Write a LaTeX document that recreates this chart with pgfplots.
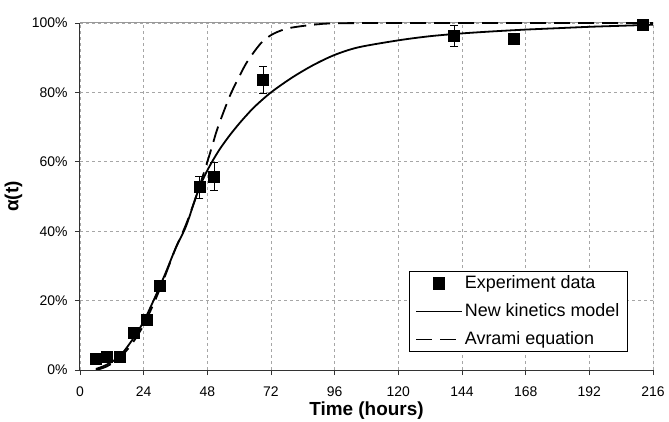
\documentclass[border=0pt]{standalone}
\usepackage{pgfplots}
\pgfplotsset{compat=1.18}
\usepackage{fontspec}
\setmainfont{Liberation Sans}
\begin{document}
\begin{tikzpicture}
\useasboundingbox (-80bp,-52bp) rectangle (589bp,370bp);
\begin{axis}[
  at={(0,0)}, anchor=south west,
  scale only axis, width=573bp, height=347bp,
  xmin=0, xmax=216, ymin=0, ymax=100,
  xtick={0,24,...,216}, ytick={0,20,...,100},
  yticklabel={\pgfmathprintnumber{\tick}\%},
  /pgf/number format/assume math mode=true,
  axis x line*=bottom, axis y line*=left,
  axis line style={draw=black!80, line width=1bp},
  tick align=outside, major tick length=5bp,
  tick style={draw=black!80, line width=0.8bp},
  ticklabel style={font=\fontsize{14}{16}\selectfont},
  xticklabel style={yshift=-8bp},
  yticklabel style={xshift=-4bp},
  grid=major,
  major grid style={draw=black!35, dash pattern=on 3bp off 3bp, line width=0.7bp},
  xlabel={\textbf{Time (hours)}},
  xlabel style={font=\fontsize{19}{21}\selectfont, at={(rel axis cs:0.5,0)}, anchor=north, yshift=-32bp, inner sep=0pt},
  ylabel={\textbf{α(t)}},
  ylabel style={font=\fontsize{19}{21}\selectfont, inner sep=0pt},
  ylabel shift=6bp,
  legend image code/.code={\draw[mark repeat=2,mark phase=2,#1,line width=1.8bp] plot coordinates {(0bp,0bp) (23bp,0bp) (46bp,0bp)};},
  legend cell align=left,
  legend style={at={(0.956,0.052)}, anchor=south east, draw=black, line width=0.8bp, fill=white,
    font=\fontsize{18}{21}\selectfont, inner xsep=6bp, inner ysep=1.5bp, row sep=7bp,
    nodes={inner sep=2bp, text height=13bp, text depth=4bp}},
]
\draw[black!40, line width=1bp] (rel axis cs:0,1) -- (rel axis cs:1,1) -- (rel axis cs:1,0);
\addplot[only marks, mark=square*, mark size=5.5bp, black,
  error bars/.cd, y dir=both, y explicit,
  error bar style={line width=0.9bp, black},
  error mark options={rotate=90, mark size=4bp, line width=0.9bp}]
  coordinates {
  (6,3.2) +- (0,0.8)
  (10,3.7) +- (0,0.8)
  (15,3.7) +- (0,0.8)
  (20.3,10.7) +- (0,1)
  (25,14.4) +- (0,1)
  (30,24.4) +- (0,1)
  (45,52.7) +- (0,3.2)
  (50.5,55.8) +- (0,4)
  (69,83.6) +- (0,3.9)
  (141,96.2) +- (0,3)
  (163.6,95.5) +- (0,1.2)
  (212,99.6) +- (0,1.5)
  };
\addlegendentry{Experiment data}
\addplot[black, line width=1.8bp, smooth] coordinates {
  (6,0.3) (10,1.5) (15,4) (20,9) (24,14) (28,20.5) (32,27.5) (36,35) (40,41.5)
  (44,50.5) (47,56) (50,60.3) (53,64) (56.5,67.7) (60,71) (63,73.6) (66,76) (72,80) (80,84.3)
  (88,87.9) (96,90.8) (105,93) (120,95) (132,96.2) (144,97) (156,97.6)
  (168,98.1) (180,98.5) (192,98.9) (204,99.2) (216,99.5)
};
\addlegendentry{New kinetics model}
\addplot[black, line width=1.8bp, dash pattern=on 16bp off 8bp, smooth] coordinates {
  (6,0) (10,1) (15,3.5) (20,8) (24,13) (28,19.5) (32,27) (36,35) (40,42)
  (44,50.5) (48,60) (50,65) (52,70) (56.5,79) (60,84.5) (63,88.8) (68,94) (72,96.5)
  (76,97.9) (80,98.7) (88,99.5) (96,99.9) (120,100) (216,100)
};
\addlegendentry{Avrami equation}
\end{axis}
\end{tikzpicture}
\end{document}
